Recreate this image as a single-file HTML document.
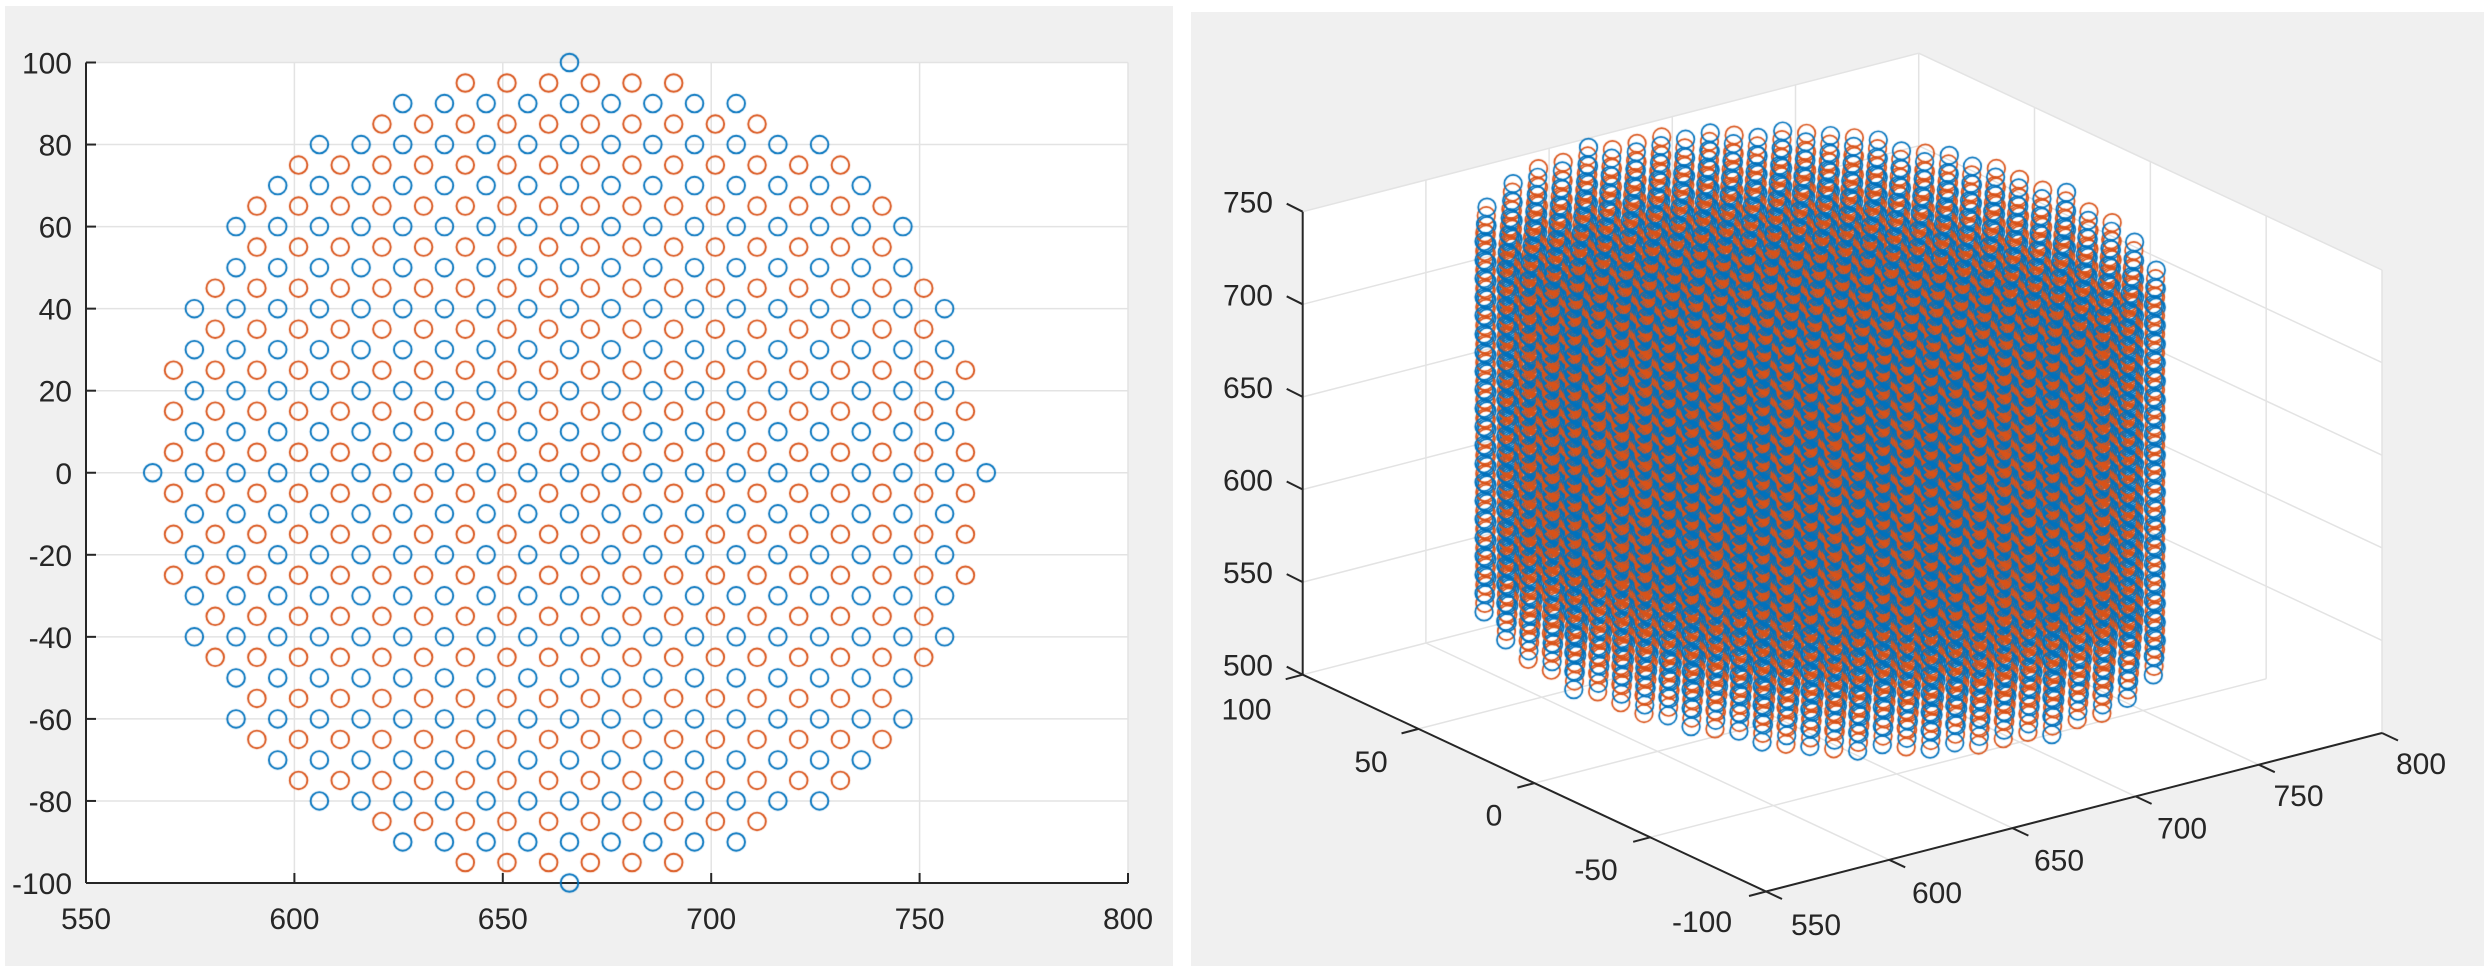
<!DOCTYPE html>
<html><head><meta charset="utf-8"><style>
html,body{margin:0;padding:0;background:#fff;}
#wrap{position:relative;width:2484px;height:966px;overflow:hidden;}
svg,canvas{position:absolute;left:0;top:0;}
text{font-family:"Liberation Sans",Arial,sans-serif;font-size:30px;fill:#262626;}
</style></head><body><div id="wrap">
<svg id="s" width="2484" height="966" xmlns="http://www.w3.org/2000/svg">
<rect x="0" y="0" width="2484" height="966" fill="#fff"/>
<rect x="5" y="6" width="1168" height="960" fill="#f0f0f0"/>
<rect x="1191" y="12" width="1293" height="954" fill="#f0f0f0"/>
<rect x="86" y="62.5" width="1042" height="820.5" fill="#fff"/>
<g id="g2" stroke="#e3e3e3" stroke-width="1.5"></g>
<g id="g3" stroke="#e3e3e3" stroke-width="1.5"></g>
<g id="ax" stroke="#262626" stroke-width="2" fill="none"></g>
<g id="tx"></g>
</svg>
<canvas id="c" width="2484" height="966"></canvas>
</div>
<script>
var NS="http://www.w3.org/2000/svg";
function el(p,t,a,txt){var e=document.createElementNS(NS,t);for(var k in a)e.setAttribute(k,a[k]);if(txt!==undefined)e.textContent=txt;document.getElementById(p).appendChild(e);return e;}
function line(p,a,b,extra){var o={x1:a[0],y1:a[1],x2:b[0],y2:b[1]};if(extra)for(var k in extra)o[k]=extra[k];el(p,'line',o);}
function X2(x){return 86+(x-550)*1042/250;}
function Y2(y){return 62.5+(100-y)*820.5/200;}
for(var x=600;x<=800;x+=50)line('g2',[X2(x),62.5],[X2(x),883]);
for(var y=-80;y<=100;y+=20)line('g2',[86,Y2(y)],[1128,Y2(y)]);
line('ax',[86,62.5],[86,883]);line('ax',[86,883],[1128,883]);
for(var x=550;x<=800;x+=50){line('ax',[X2(x),883],[X2(x),873]);el('tx','text',{x:X2(x),y:929,'text-anchor':'middle'},''+x);}
for(var y=-100;y<=100;y+=20){line('ax',[86,Y2(y)],[96,Y2(y)]);el('tx','text',{x:72,y:Y2(y)+11,'text-anchor':'end'},''+y);}
var Z0=[1302.7,674.7];
function P(x,y,z){return [Z0[0]+(x-550)/250*616+(100-y)/200*463.3, Z0[1]-(x-550)/250*158.5+(100-y)/200*216.8-(z-500)/250*463];}
var poly=[P(550,100,750),P(800,100,750),P(800,-100,750),P(800,-100,500),P(550,-100,500),P(550,100,500)];
el('g3','polygon',{points:poly.map(function(p){return p.join(',')}).join(' '),fill:'#fff',stroke:'none'});
for(var x=600;x<=800;x+=50)line('g3',P(x,100,500),P(x,100,750));
for(var z=550;z<=750;z+=50)line('g3',P(550,100,z),P(800,100,z));
for(var y=-100;y<=50;y+=50)line('g3',P(800,y,500),P(800,y,750));
for(var z=550;z<=750;z+=50)line('g3',P(800,100,z),P(800,-100,z));
for(var x=600;x<=750;x+=50)line('g3',P(x,100,500),P(x,-100,500));
for(var y=-50;y<=100;y+=50)line('g3',P(550,y,500),P(800,y,500));
line('ax',P(550,100,500),P(550,100,750));
line('ax',P(550,100,500),P(550,-100,500));
line('ax',P(550,-100,500),P(800,-100,500));
var zl=[750,700,650,600,550,500];
for(var i=0;i<6;i++){var z=zl[i],p=P(550,100,z);line('ax',p,[p[0]-16,p[1]-8]);el('tx','text',{x:1273,y:p[1]+1,'text-anchor':'end'},''+z);}
var yl=[[100,1246.5,708.6],[50,1371,761],[0,1494,814.5],[-50,1596,868.8],[-100,1702,921]];
for(var i=0;i<5;i++){var p=P(550,yl[i][0],500);line('ax',p,[p[0]-17,p[1]+4.5]);el('tx','text',{x:yl[i][1],y:yl[i][2]+11,'text-anchor':'middle'},''+yl[i][0]);}
var xl=[[550,1816,924],[600,1937,892],[650,2059,859.5],[700,2182,827.5],[750,2298.5,795],[800,2421,763]];
for(var i=0;i<6;i++){var p=P(xl[i][0],-100,500);line('ax',p,[p[0]+16,p[1]+7.5]);el('tx','text',{x:xl[i][1],y:xl[i][2]+11,'text-anchor':'middle'},''+xl[i][0]);}
var pts=[];
for(var y=-100;y<=100;y+=5){var blue=(y%10===0);var x0=blue?666:661;
 for(var m=-12;m<=12;m++){var x=x0+10*m;var dx=x-666;if(dx*dx+y*y<=10000.5)pts.push([x,y,blue]);}}
var c=document.getElementById('c').getContext('2d');
c.lineWidth=1.9;
var B='#0072BD',O='#D95319';
function circ(px,py,col){c.strokeStyle=col;c.beginPath();c.arc(px,py,8.8,0,Math.PI*2);c.stroke();}
pts.forEach(function(p){circ(X2(p[0]),Y2(p[1]),p[2]?B:O);});
var all=[];
for(var z=545;z<=745;z+=10){pts.forEach(function(p){var q=P(p[0],p[1],z);
 var d=(p[0]-550)/250+(p[1]+100)/200-(z-500)/250*0.6-(p[2]?0.06:0);all.push([q[0],q[1],p[2],d]);});}
all.sort(function(a,b){return b[3]-a[3];});
c.lineWidth=1.7;
all.forEach(function(a){circ(a[0],a[1],a[2]?B:O);});
</script>
</body></html>
